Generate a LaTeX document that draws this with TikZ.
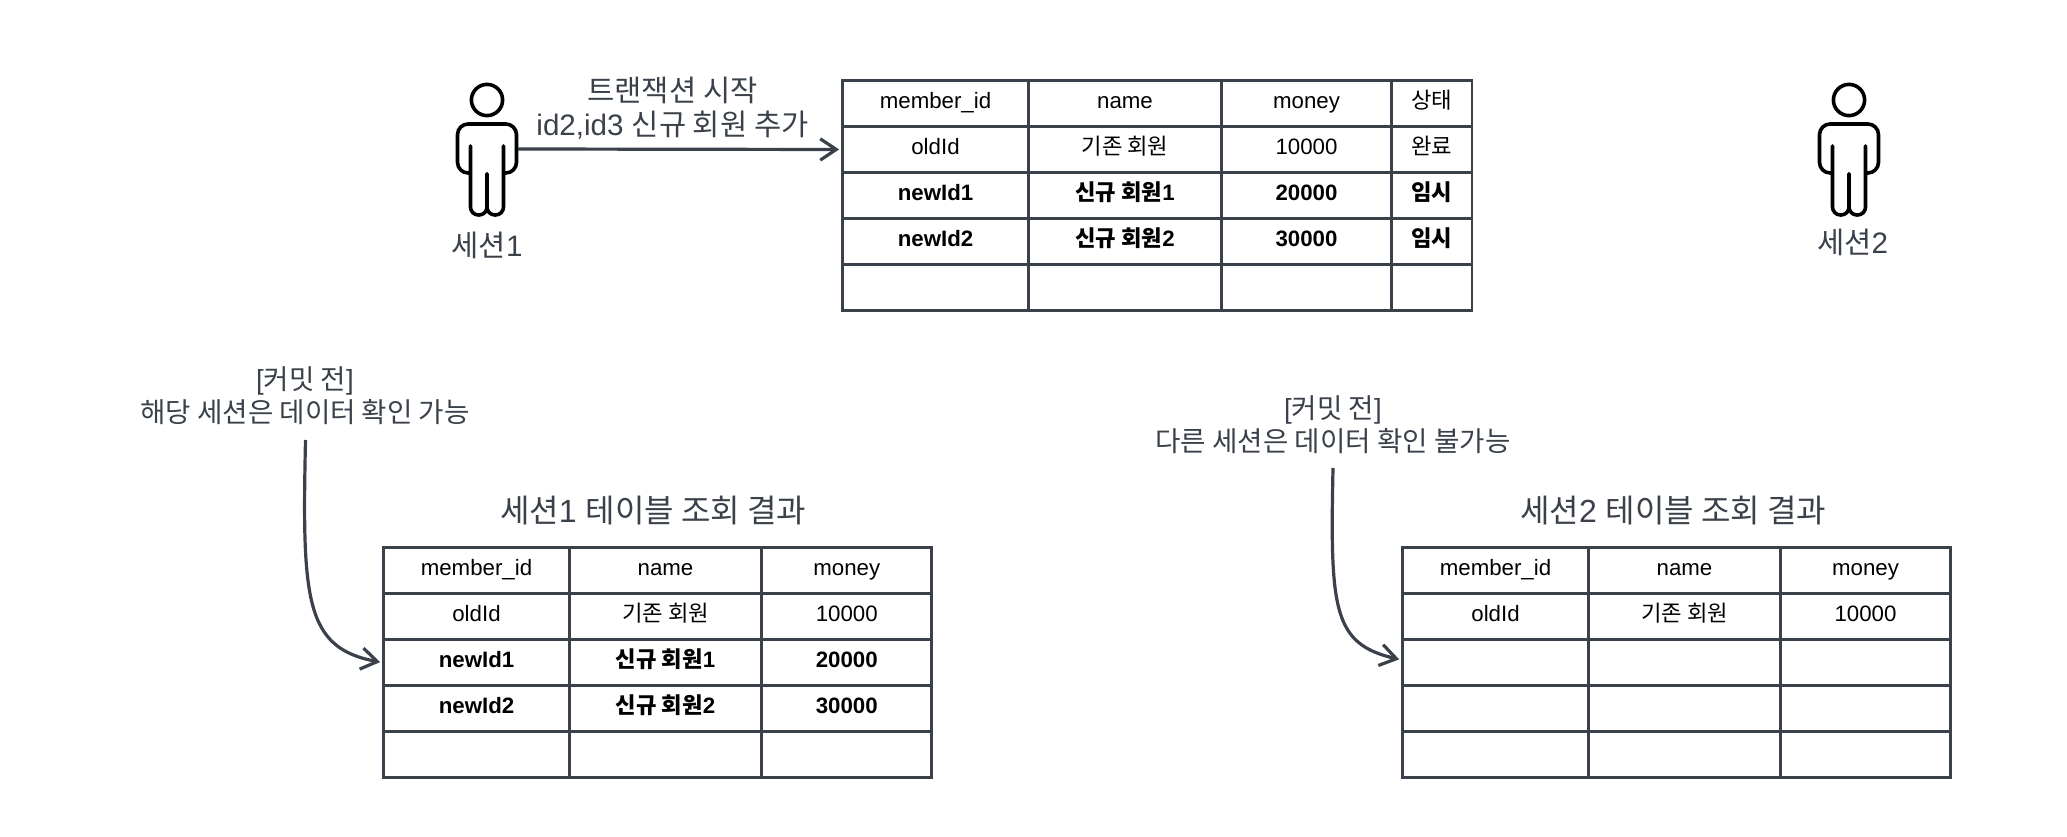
\documentclass[tikz,border=0pt]{standalone}
\usepackage{fontspec}
\setmainfont{Liberation Sans}
\newfontfamily\krfont{Noto Sans CJK KR}
\newcommand{\kr}[1]{{\krfont #1}}
\usetikzlibrary{arrows.meta}
\definecolor{linegray}{HTML}{3A414A}
\tikzset{
  cell/.style={draw=linegray, line width=2.1pt, inner sep=0pt, minimum height=34.5pt, minimum width=#1*0.75pt, text height=12pt, text depth=4pt, font=\fontsize{16.7}{20}\selectfont},
  note/.style={text=linegray, align=center, inner sep=0pt, font=\fontsize{20.7}{24.5}\selectfont},
  label/.style={text=linegray, align=center, inner sep=0pt, font=\fontsize{22.2}{25.7}\selectfont},
  title/.style={text=linegray, inner sep=0pt, font=\fontsize{24}{28}\selectfont},
  flow/.style={draw=linegray, line width=2.4pt, shorten >=1.5pt, -{Straight Barb[length=12pt, width=16pt, line width=2.4pt]}},
  person/.pic={
    \draw[line width=2.7pt, line cap=round] (0,0) circle (11.7pt);
    \draw[line width=2.7pt, line cap=round, rounded corners=8pt] (-16.5,73) -- (-29.5,73) -- (-29.5,24) -- (29.5,24) -- (29.5,73) -- (16.5,73);
    \draw[line width=2.7pt, line cap=round, rounded corners=6pt] (-16.5,46) -- (-16.5,115) -- (0,115) -- (0,74);
    \draw[line width=2.7pt, line cap=round, rounded corners=6pt] (16.5,46) -- (16.5,115) -- (0,115) -- (0,74);
    \coordinate (-hand) at (31,49);
  }
}
\begin{document}
\begin{tikzpicture}[x=0.75pt, y=-0.75pt]
\useasboundingbox (0,0) rectangle (2067,837);

% Sessions
\pic (s1) at (487,100) {person};
\pic (s2) at (1849,100) {person};
\node[label] (s1label) at (487,245) {\kr{세션}1};
\node[label] (s2label) at (1852.5,242) {\kr{세션}2};

% Main table
\foreach \rn/\fnt/\ca/\cb/\cc/\cd [evaluate=\rn as \cy using 57.5+46*\rn] in {
  1/\relax/member\_id/name/money/\kr{상태},
  2/\relax/oldId/\kr{기존 회원}/10000/\kr{완료},
  3/\bfseries/newId1/\kr{신규 회원}1/20000/\kr{임시},
  4/\bfseries/newId2/\kr{신규 회원}2/30000/\kr{임시},
  5/\relax/{}/{}/{}/{}} {
  \node[cell=186] (main\rn a) at (935.5,\cy) {\fnt\ca};
  \node[cell=193] (main\rn b) at (1125,\cy) {\fnt\cb};
  \node[cell=170] (main\rn c) at (1306.5,\cy) {\fnt\cc};
  \node[cell=81] (main\rn d) at (1431.5,\cy) {\fnt\cd};
}

% Session 1 result
\foreach \rn/\fnt/\ca/\cb/\cc [evaluate=\rn as \cy using 524.5+46*\rn] in {
  1/\relax/member\_id/name/money,
  2/\relax/oldId/\kr{기존 회원}/10000,
  3/\bfseries/newId1/\kr{신규 회원}1/20000,
  4/\bfseries/newId2/\kr{신규 회원}2/30000,
  5/\relax/{}/{}/{}} {
  \node[cell=186] (left\rn a) at (476.5,\cy) {\fnt\ca};
  \node[cell=192] (left\rn b) at (665.5,\cy) {\fnt\cb};
  \node[cell=170] (left\rn c) at (846.75,\cy) {\fnt\cc};
}

% Session 2 result
\foreach \rn/\fnt/\ca/\cb/\cc [evaluate=\rn as \cy using 524.5+46*\rn] in {
  1/\relax/member\_id/name/money,
  2/\relax/oldId/\kr{기존 회원}/10000,
  3/\relax/{}/{}/{},
  4/\relax/{}/{}/{},
  5/\relax/{}/{}/{}} {
  \node[cell=186] (right\rn a) at (1495.5,\cy) {\fnt\ca};
  \node[cell=192] (right\rn b) at (1684.5,\cy) {\fnt\cb};
  \node[cell=170] (right\rn c) at (1865.5,\cy) {\fnt\cc};
}

% Titles and notes
\node[title] (lefttitle) at (653,511) {\kr{세션}1 \kr{테이블 조회 결과}};
\node[title] (righttitle) at (1673.3,511) {\kr{세션}2 \kr{테이블 조회 결과}};
\node[label] (start) at (672.5,108) {\kr{트랜잭션 시작}\\id2,id3 \kr{신규 회원 추가}};
\node[note] (noteleft) at (305,396) {[\kr{커밋 전}]\\\kr{해당 세션은 데이터 확인 가능}};
\node[note] (noteright) at (1333,425) {[\kr{커밋 전}]\\\kr{다른 세션은 데이터 확인 불가능}};

% Arrows
\coordinate (noteleftend) at (305.5,440);
\coordinate (noterightend) at (1333,468);
\draw[flow] (s1-hand) -- (main2a.west);
\draw[flow] (noteleftend) .. controls (302,600) and (305,648) .. (left3a.west);
\draw[flow] (noterightend) .. controls (1330,610) and (1333,644) .. ([yshift=2pt]right3a.west);
\end{tikzpicture}
\end{document}
